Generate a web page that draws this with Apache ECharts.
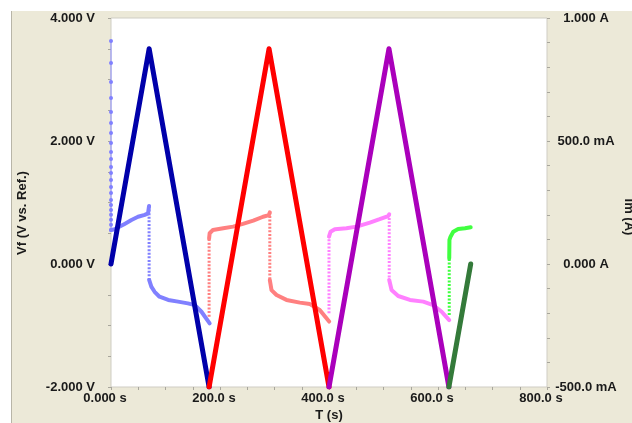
<!DOCTYPE html>
<html>
<head>
<meta charset="utf-8">
<script src="https://cdn.jsdelivr.net/npm/echarts/dist/echarts.min.js"></script>
<style>
  html, body { margin: 0; padding: 0; background: #ffffff; }
  #chart { width: 632px; height: 423px; }
</style>
</head>
<body>
<div id="chart"></div>
<script>
// Axis tick labels
const timeTickLabels = ['0.000 s', '200.0 s', '400.0 s', '600.0 s', '800.0 s'];
const potentialTickLabels = ['-2.000 V', '0.000 V', '2.000 V', '4.000 V'];
const currentTickLabels = ['-500.0 mA', '0.000 A', '500.0 mA', '1.000 A'];

// Applied potential, [time s, Vf V] sweep vertices
const potentialCycle1 = [[0, 0], [70, 3.5], [180, -2]];
const potentialCycle2 = [[180, -2], [290, 3.5], [400, -2]];
const potentialCycle3 = [[400, -2], [510, 3.5], [620, -2]];
const potentialCycle4 = [[620, -2], [660, 0]];

// Measured current, [time s, Im A]
// cycle 1: charging spike at switch-on
const currentCycle1Spike = [[0, 0.906], [0, 0.817], [0, 0.740], [0, 0.675], [0, 0.618], [0, 0.573],
  [0, 0.533], [0, 0.492], [0, 0.455], [0, 0.427], [0, 0.394], [0, 0.370], [0, 0.341], [0, 0.313],
  [0, 0.289], [0, 0.260], [0, 0.240], [0, 0.220], [0, 0.200], [0, 0.180], [0, 0.160], [0, 0.138]];
const currentCycle1Anodic = [[0, 0.138], [6.8, 0.141], [16, 0.152], [25, 0.163], [37.5, 0.179],
  [49.6, 0.192], [61.9, 0.200], [68, 0.206], [69.8, 0.236]];
const currentCycle1Switch = [[69.8, 0.236], [70, -0.065]];
const currentCycle1Cathodic = [[70, -0.065], [74, -0.092], [80, -0.113], [89, -0.133], [105, -0.146],
  [123, -0.153], [141, -0.160], [154, -0.167], [166, -0.194], [181, -0.241]];

// cycle 2
const currentCycle2Switch1 = [[180, -0.214], [180, 0.104]];
const currentCycle2Anodic = [[180, 0.104], [181, 0.125], [187, 0.138], [206, 0.145], [224, 0.152],
  [242, 0.163], [261, 0.176], [279, 0.192], [289.6, 0.199], [291.4, 0.210]];
const currentCycle2Switch2 = [[291.4, 0.210], [291.4, -0.065]];
const currentCycle2Cathodic = [[291.4, -0.065], [294.5, -0.106], [303.7, -0.126], [322, -0.146],
  [346.5, -0.157], [365, -0.163], [383, -0.187], [400.3, -0.234]];

// cycle 3
const currentCycle3Switch1 = [[400, -0.200], [400, 0.111]];
const currentCycle3Anodic = [[400, 0.111], [402.8, 0.131], [410.7, 0.141], [432, 0.145], [450.6, 0.152],
  [475, 0.168], [493, 0.182], [508.6, 0.195], [510.5, 0.202]];
const currentCycle3Switch2 = [[510.5, 0.202], [510.5, -0.065]];
const currentCycle3Cathodic = [[510.5, -0.065], [514.8, -0.106], [527, -0.130], [548.5, -0.146],
  [573, -0.153], [591, -0.167], [606.7, -0.194], [620.6, -0.228]];

// cycle 4 (interrupted)
const currentCycle4Switch1 = [[620.6, -0.207], [620.6, 0.023]];
const currentCycle4Anodic = [[620.6, 0.023], [620.8, 0.060], [621, 0.098], [623, 0.111], [628, 0.131],
  [637, 0.142], [649.5, 0.145], [660, 0.149]];

const FONT = 'Liberation Sans, Arial, Helvetica, sans-serif';
const TEXT = '#1a1a1a';
const TICK = '#a8a69c';

function potentialLine(data, color) {
  return {
    type: 'line', yAxisIndex: 0, data: data, showSymbol: false, z: 5,
    lineStyle: { color: color, width: 5, cap: 'round', join: 'round' },
    itemStyle: { color: color }
  };
}
function currentLine(data, color) {
  return {
    type: 'line', yAxisIndex: 1, data: data, showSymbol: false, z: 3,
    lineStyle: { color: color, width: 4, cap: 'round', join: 'round' },
    itemStyle: { color: color }
  };
}
function currentStep(data, color) {
  return {
    type: 'line', yAxisIndex: 1, data: data, showSymbol: false, z: 2,
    lineStyle: { color: color, width: 3, type: [2, 1.6], cap: 'butt' },
    itemStyle: { color: color }
  };
}

const chart = echarts.init(document.getElementById('chart'), null, { renderer: 'canvas' });

chart.setOption({
  animation: false,
  backgroundColor: '#ECE9D8',
  graphic: [
    { type: 'rect', shape: { x: 0, y: 0, width: 632, height: 11 }, style: { fill: '#ffffff' }, z: 0 },
    { type: 'rect', shape: { x: 0, y: 0, width: 11, height: 423 }, style: { fill: '#ffffff' }, z: 0 },
    { type: 'line', shape: { x1: 11.5, y1: 11, x2: 11.5, y2: 423 }, style: { stroke: '#b8b5a8', lineWidth: 1 }, z: 0 },
    {
      type: 'text', x: 22, y: 213, rotation: Math.PI / 2,
      style: { text: 'Vf (V vs. Ref.)', fill: TEXT, font: 'bold 13px ' + FONT, textAlign: 'center', textVerticalAlign: 'middle' }
    },
    {
      type: 'text', x: 629, y: 217, rotation: -Math.PI / 2,
      style: { text: 'Im (A)', fill: TEXT, font: 'bold 13px ' + FONT, textAlign: 'center', textVerticalAlign: 'middle' }
    },
    {
      type: 'text', x: 329, y: 409,
      style: { text: 'T (s)', fill: TEXT, font: 'bold 13px ' + FONT, textAlign: 'center', textVerticalAlign: 'top' }
    }
  ],
  grid: {
    left: 111, top: 18, width: 436, height: 369,
    show: true, backgroundColor: '#ffffff', borderColor: '#cfcdc4', borderWidth: 1,
    containLabel: false, outerBoundsMode: 'none'
  },
  xAxis: {
    type: 'value', position: 'bottom', min: 0, max: 800, interval: 200,
    axisLine: { show: false, onZero: false },
    axisTick: { show: true, length: 3, lineStyle: { color: TICK } },
    minorTick: { show: true, splitNumber: 4, length: 3, lineStyle: { color: TICK } },
    splitLine: { show: false },
    minorSplitLine: { show: false },
    axisLabel: {
      margin: 5, color: TEXT, fontFamily: FONT, fontWeight: 'bold', fontSize: 13,
      padding: [0, 12, 0, 0],
      formatter: function (v, i) { return timeTickLabels[i]; }
    }
  },
  yAxis: [
    {
      type: 'value', position: 'left', min: -2, max: 4, interval: 2,
      axisLine: { show: false, onZero: false },
      axisTick: { show: true, length: 3, lineStyle: { color: TICK } },
      minorTick: { show: true, splitNumber: 4, length: 3, lineStyle: { color: TICK } },
      splitLine: { show: false },
      minorSplitLine: { show: false },
      axisLabel: {
        margin: 16, color: TEXT, fontFamily: FONT, fontWeight: 'bold', fontSize: 13,
        formatter: function (v, i) { return potentialTickLabels[i]; }
      }
    },
    {
      type: 'value', position: 'right', min: -0.5, max: 1, interval: 0.5,
      axisLine: { show: false, onZero: false },
      axisTick: { show: true, length: 3, lineStyle: { color: TICK } },
      minorTick: { show: true, splitNumber: 5, length: 3, lineStyle: { color: TICK } },
      splitLine: { show: false },
      minorSplitLine: { show: false },
      axisLabel: {
        margin: 39, align: 'center', color: TEXT, fontFamily: FONT, fontWeight: 'bold', fontSize: 13,
        formatter: function (v, i) { return currentTickLabels[i]; }
      }
    }
  ],
  series: [
    // current, cycle 1
    {
      type: 'line', yAxisIndex: 1, data: currentCycle1Spike, z: 2,
      showSymbol: true, symbol: 'circle', symbolSize: 4,
      lineStyle: { color: '#8c8cff', width: 1 }, itemStyle: { color: '#8080ff' }
    },
    currentLine(currentCycle1Anodic, '#8080ff'),
    currentStep(currentCycle1Switch, '#8080ff'),
    currentLine(currentCycle1Cathodic, '#8080ff'),
    // current, cycle 2
    currentStep(currentCycle2Switch1, '#ff8080'),
    currentLine(currentCycle2Anodic, '#ff8080'),
    currentStep(currentCycle2Switch2, '#ff8080'),
    currentLine(currentCycle2Cathodic, '#ff8080'),
    // current, cycle 3
    currentStep(currentCycle3Switch1, '#ff80ff'),
    currentLine(currentCycle3Anodic, '#ff80ff'),
    currentStep(currentCycle3Switch2, '#ff80ff'),
    currentLine(currentCycle3Cathodic, '#ff80ff'),
    // current, cycle 4
    currentStep(currentCycle4Switch1, '#40ff40'),
    currentLine(currentCycle4Anodic, '#40ff40'),
    // potential sweeps
    potentialLine(potentialCycle1, '#0000aa'),
    potentialLine(potentialCycle2, '#ff0000'),
    potentialLine(potentialCycle3, '#aa00bb'),
    potentialLine(potentialCycle4, '#347a3a')
  ]
});
</script>
</body>
</html>
